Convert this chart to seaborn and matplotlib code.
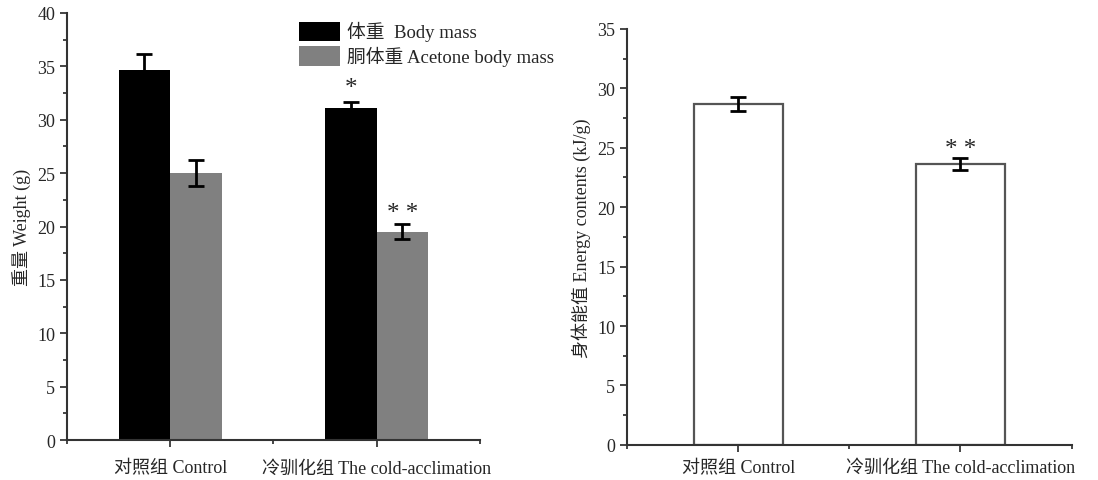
import numpy as np
import pandas as pd
import matplotlib
matplotlib.use("Agg")
import matplotlib.pyplot as plt
import seaborn as sns
from matplotlib.ticker import MultipleLocator

sns.set_style("ticks")
plt.rcParams['font.family'] = ['Liberation Serif', 'Noto Sans CJK SC']

# data
groups = ["对照组 Control", "冷驯化组 The cold-acclimation"]
measures = ["体重  Body mass", "胴体重 Acetone body mass"]
body_mass = [34.7, 31.1]
body_mass_err = [1.5, 0.6]
carcass_mass = [25.0, 19.5]
carcass_mass_err = [1.2, 0.7]
energy = [28.7, 23.6]
energy_err = [0.6, 0.5]
weight_marks = [("*", 1, 0, 33.0), ("* *", 1, 1, 21.3)]  # text, group, measure, y
energy_marks = [("* *", 1, 24.9)]

df_w = pd.DataFrame({
    "group": groups * 2,
    "measure": [measures[0]] * 2 + [measures[1]] * 2,
    "value": body_mass + carcass_mass,
    "err": body_mass_err + carcass_mass_err,
})
df_e = pd.DataFrame({"group": groups, "value": energy, "err": energy_err})

fig = plt.figure(figsize=(10.98, 4.81), dpi=100)
ax1 = fig.add_axes([0.061, 0.083, 0.376, 0.888])
ax2 = fig.add_axes([0.571, 0.073, 0.405, 0.865])

# left panel
sns.barplot(data=df_w, x="group", y="value", hue="measure", hue_order=measures,
            order=groups, palette=["#000000", "#808080"], width=0.5,
            errorbar=None, saturation=1, ax=ax1, edgecolor="none")
bars = ax1.patches[:4]
xs = [p.get_x() + p.get_width() / 2 for p in bars]
hs = [p.get_height() for p in bars]
# patches order: measure 0 (g0, g1), measure 1 (g0, g1)
errs = body_mass_err + carcass_mass_err
ax1.errorbar(xs, hs, yerr=errs, fmt="none", ecolor="black", elinewidth=2,
             capsize=6, capthick=2)
for txt, g, m, y in weight_marks:
    b = bars[m * 2 + g]
    ax1.text(b.get_x() + b.get_width() / 2, y, txt, ha="center", va="center",
             fontsize=18)
ax1.set_ylim(0, 40)
ax1.set_xlim(-0.5, 1.5)
ax1.yaxis.set_major_locator(MultipleLocator(5))
ax1.yaxis.set_minor_locator(MultipleLocator(2.5))
ax1.xaxis.set_minor_locator(MultipleLocator(0.5))
ax1.set_ylabel("重量 Weight (g)", fontsize=13)
ax1.set_xlabel("")
leg = ax1.legend(loc="upper left", bbox_to_anchor=(0.52, 1.02), frameon=False,
                 fontsize=13.5, handlelength=2.2, handleheight=1.2,
                 handletextpad=0.4, labelspacing=0.25)

# right panel
sns.barplot(data=df_e, x="group", y="value", order=groups, color="white",
            width=0.4, errorbar=None, ax=ax2, edgecolor="#555555",
            linewidth=1.6)
bars2 = ax2.patches[:2]
xs2 = [p.get_x() + p.get_width() / 2 for p in bars2]
ax2.errorbar(xs2, [p.get_height() for p in bars2], yerr=energy_err, fmt="none",
             ecolor="black", elinewidth=2, capsize=6, capthick=2)
for txt, g, y in energy_marks:
    ax2.text(xs2[g], y, txt, ha="center", va="center", fontsize=18)
ax2.set_ylim(0, 35)
ax2.set_xlim(-0.5, 1.5)
ax2.yaxis.set_major_locator(MultipleLocator(5))
ax2.yaxis.set_minor_locator(MultipleLocator(2.5))
ax2.xaxis.set_minor_locator(MultipleLocator(0.5))
ax2.set_ylabel("身体能值 Energy contents (kJ/g)", fontsize=13)
ax2.set_xlabel("")

for ax in (ax1, ax2):
    sns.despine(ax=ax)
    for s in ("left", "bottom"):
        ax.spines[s].set_linewidth(1.5)
        ax.spines[s].set_color("#333333")
    ax.tick_params(axis="both", which="major", labelsize=13, length=5,
                   width=1.2)
    ax.tick_params(axis="both", which="minor", length=3, width=1.2)
ax1.tick_params(axis="x", which="major", pad=9)
ax2.tick_params(axis="x", which="major", pad=5)

fig.savefig("out.png", dpi=100)
